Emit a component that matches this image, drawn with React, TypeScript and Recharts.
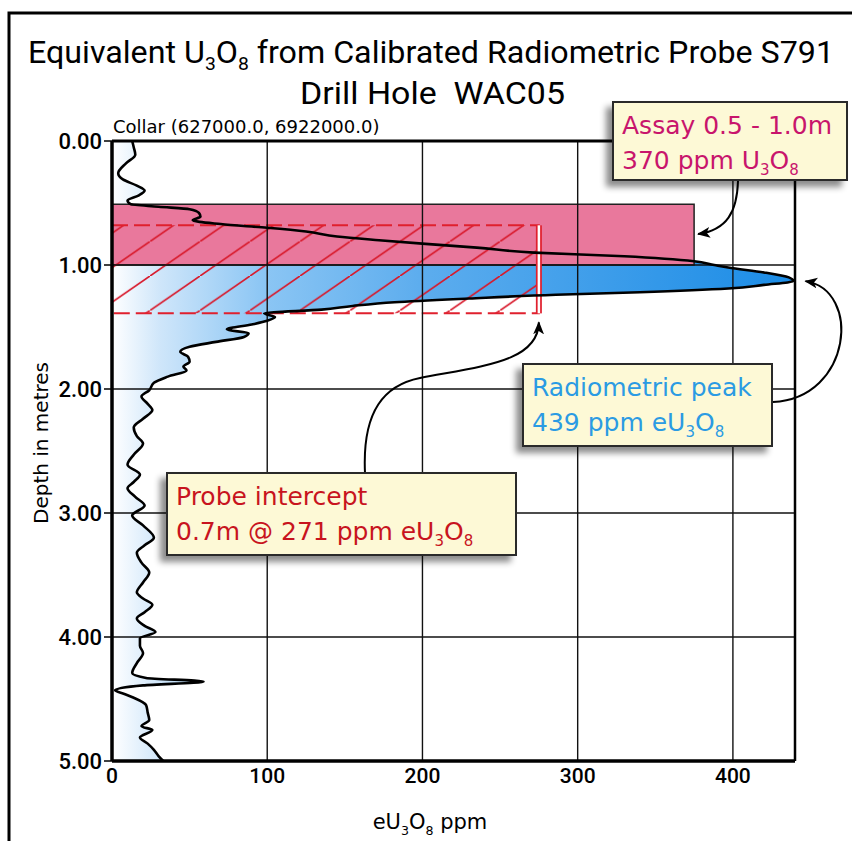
import { ComposedChart, Area, Line, XAxis, YAxis, ReferenceArea, ReferenceLine } from 'recharts'

// probe log: depth (m) and eU3O8 (ppm)
const depths = [
  0.0, 0.05, 0.11, 0.18, 0.26, 0.31, 0.36, 0.4, 0.44, 0.48, 0.51, 0.53, 0.55, 0.58, 0.61, 0.64, 0.67, 0.7, 0.73, 0.77,
  0.8, 0.83, 0.86, 0.9, 0.93, 0.97, 1.0, 1.02, 1.06, 1.1, 1.13, 1.16, 1.19, 1.22, 1.24, 1.27, 1.3, 1.33, 1.36, 1.39,
  1.42, 1.45, 1.48, 1.52, 1.55, 1.58, 1.62, 1.66, 1.7, 1.74, 1.78, 1.82, 1.85, 1.9, 1.95, 2.01, 2.06, 2.12, 2.17, 2.24,
  2.31, 2.38, 2.44, 2.53, 2.61, 2.69, 2.75, 2.8, 2.87, 2.94, 3.02, 3.1, 3.2, 3.26, 3.32, 3.4, 3.48, 3.56, 3.64, 3.69,
  3.74, 3.8, 3.85, 3.91, 3.96, 4.01, 4.07, 4.13, 4.21, 4.29, 4.33, 4.36, 4.39, 4.43, 4.46, 4.49, 4.55, 4.61, 4.67, 4.72,
  4.75, 4.81, 4.86, 4.91, 4.96, 5.0,
]
const ppm = [
  13, 14, 15, 9, 4, 7, 16, 21, 17, 10, 12, 30, 50, 56, 57, 52, 70, 100, 125, 145,
  172, 202, 235, 272, 330, 375, 388, 397, 420, 436, 439, 420, 397, 340, 286, 230, 182, 155, 135, 98,
  105, 100, 90, 74, 88, 85, 67, 50, 44, 49, 50, 46, 48, 36, 27, 24, 19, 23, 26, 20,
  14, 16, 20, 14, 10, 18, 14, 10, 15, 21, 13, 20, 27, 21, 16, 19, 24, 20, 16, 20,
  26, 21, 16, 21, 28, 18, 18, 20, 16, 13, 22, 59, 20, 2, 8, 14, 22, 23, 24, 19,
  26, 18, 23, 27, 30, 33,
]

const xTicks = [0, 100, 200, 300, 400]
const yTicks = [0, 1, 2, 3, 4, 5]
const xMax = 440

// assay interval and probe intercept
const assayFrom = 0.51
const assayTo = 1.0
const assayPpm = 375
const interceptFrom = 0.68
const interceptTo = 1.39
const interceptPpm = 275
const peakDepth = 1.13
const peakPpm = 439

const profile = depths.map((d, i) => ({ depth: d, ppm: ppm[i] }))

const W = 852
const H = 841
const PLOT = { left: 112, top: 141, right: 795, bottom: 761 }
const Y_AXIS_W = 60
const X_AXIS_H = 40

const xPx = (v: number) => PLOT.left + (v / xMax) * (PLOT.right - PLOT.left)
const yPx = (d: number) => PLOT.top + (d / 5) * (PLOT.bottom - PLOT.top)

const NARROW = "Roboto, 'Liberation Sans', sans-serif"
const ROUND = "'DejaVu Sans', 'Open Sans', sans-serif"

// U3O8 with subscripts; post text gets the baseline back
function Formula({ pre = '', post = '', shift = 6 }: { pre?: string; post?: string; shift?: number }) {
  return (
    <>
      {pre}U
      <tspan dy={shift} fontSize="60%">3</tspan>
      <tspan dy={-shift}>O</tspan>
      <tspan dy={shift} fontSize="60%">8</tspan>
      {post ? <tspan dy={-shift}>{post}</tspan> : null}
    </>
  )
}

function Callout({ x, y, w, h, color, lines }: { x: number; y: number; w: number; h: number; color: string; lines: React.ReactNode[] }) {
  return (
    <g>
      <rect x={x} y={y} width={w} height={h} fill="#fdf9d6" stroke="#2a2a2a" strokeWidth={2} filter="url(#boxShadow)" />
      {lines.map((l, i) => (
        <text key={i} x={x + 9} y={y + 32 + i * 35} fill={color} fontFamily={ROUND} fontSize={25}>
          {l}
        </text>
      ))}
    </g>
  )
}

function Overlay() {
  return (
    <svg width={W} height={H} style={{ position: 'absolute', left: 0, top: 0, pointerEvents: 'none' }}>
      <defs>
        <filter id="boxShadow" x="-20%" y="-20%" width="140%" height="150%">
          <feDropShadow dx={-6} dy={6} stdDeviation={3} floodColor="#000" floodOpacity={0.45} />
        </filter>
        <marker id="arrowHead" viewBox="0 0 12 10" refX={11} refY={5} markerWidth={13} markerHeight={11} markerUnits="userSpaceOnUse" orient="auto">
          <path d="M0,0 L12,5 L0,10 L3,5 Z" fill="#000" />
        </marker>
      </defs>

      {/* frame */}
      <path d={`M9,${H} L9,13 L${W},13`} fill="none" stroke="#000" strokeWidth={3} />

      <text x={28} y={63} fontFamily={NARROW} fontSize={31} textLength={806} lengthAdjust="spacingAndGlyphs">
        Equivalent <Formula shift={7} post=" from Calibrated Radiometric Probe S791" />
      </text>
      <text x={300} y={104} fontFamily={NARROW} fontSize={31} textLength={265} lengthAdjust="spacingAndGlyphs">
        Drill Hole{'\u00a0 '}WAC05
      </text>
      <text x={113} y={133} fontFamily={ROUND} fontSize={18}>
        Collar (627000.0, 6922000.0)
      </text>

      <text transform="translate(48,443) rotate(-90)" textAnchor="middle" fontFamily={ROUND} fontSize={20}>
        Depth in metres
      </text>
      <text x={430} y={829} textAnchor="middle" fontFamily={ROUND} fontSize={21}>
        <Formula pre="e" shift={6} post=" ppm" />
      </text>

      {/* arrows */}
      <path d={`M738,181 C737,212 727,230 ${xPx(assayPpm) + 4},${yPx(0.75)}`} fill="none" stroke="#000" strokeWidth={2} markerEnd="url(#arrowHead)" />
      <path d={`M773,402 C852,398 862,290 ${xPx(peakPpm) + 12},${yPx(peakDepth)}`} fill="none" stroke="#000" strokeWidth={2} markerEnd="url(#arrowHead)" />
      <path d={`M365,473 C362,410 385,385 420,378 C482,366 538,362 ${xPx(interceptPpm)},${yPx(interceptTo) + 9}`} fill="none" stroke="#000" strokeWidth={2} markerEnd="url(#arrowHead)" />

      <Callout x={613} y={102} w={234} h={78} color="#c8156c" lines={['Assay 0.5 - 1.0m', <Formula key="a" pre="370 ppm " />]} />
      <Callout x={523} y={364} w={249} h={82} color="#2b9be3" lines={['Radiometric peak', <Formula key="b" pre="439 ppm e" />]} />
      <Callout x={167} y={473} w={349} h={82} color="#c8141e" lines={['Probe intercept', <Formula key="c" pre="0.7m @ 271 ppm e" />]} />
    </svg>
  )
}

export default function App() {
  return (
    <div style={{ position: 'absolute', left: 0, top: 0, width: W, height: H, background: '#fff' }}>
      <ComposedChart
        width={W}
        height={H}
        data={profile}
        layout="vertical"
        margin={{ top: PLOT.top, right: W - PLOT.right, bottom: H - PLOT.bottom - X_AXIS_H, left: PLOT.left - Y_AXIS_W }}
      >
        <defs>
          <linearGradient id="probeFill" gradientUnits="userSpaceOnUse" x1={PLOT.left} y1={0} x2={PLOT.right} y2={0}>
            <stop offset="0" stopColor="#ffffff" />
            <stop offset="0.07" stopColor="#cfe6fa" />
            <stop offset="0.22" stopColor="#8cc6f4" />
            <stop offset="0.45" stopColor="#5dadee" />
            <stop offset="1" stopColor="#1b8ce6" />
          </linearGradient>
          <pattern id="hatch" patternUnits="userSpaceOnUse" width={50} height={34.5}>
            <line x1={-5} y1={37.95} x2={55} y2={-3.45} stroke="#d8182a" strokeWidth={1.7} />
          </pattern>
        </defs>
        <XAxis
          type="number"
          domain={[0, xMax]}
          ticks={xTicks}
          height={X_AXIS_H}
          tickSize={0}
          tickMargin={7}
          axisLine={{ stroke: '#000', strokeWidth: 3.5 }}
          tick={{ fill: '#000', fontSize: 21, fontWeight: 500, fontFamily: NARROW }}
        />
        <YAxis
          type="number"
          dataKey="depth"
          domain={[0, 5]}
          ticks={yTicks}
          width={Y_AXIS_W}
          tickSize={8}
          tickMargin={2}
          tickFormatter={(v: number) => v.toFixed(2)}
          axisLine={{ stroke: '#000', strokeWidth: 3.5 }}
          tickLine={{ stroke: '#000', strokeWidth: 1.5 }}
          tick={{ fill: '#000', fontSize: 22, fontWeight: 500, fontFamily: NARROW }}
        />
        <Area dataKey="ppm" type="monotone" fill="url(#probeFill)" fillOpacity={1} stroke="none" isAnimationActive={false} />
        <ReferenceArea x1={0} x2={assayPpm} y1={assayFrom} y2={assayTo} fill="#e9789c" fillOpacity={1} stroke="#222" strokeWidth={1.5} />
        <ReferenceArea
          x1={0}
          x2={interceptPpm}
          y1={interceptFrom}
          y2={interceptTo}
          fill="url(#hatch)"
          fillOpacity={1}
          stroke="#e0202e"
          strokeWidth={2}
          strokeDasharray="16 6"
        />
        {xTicks.slice(1).map((t) => (
          <ReferenceLine key={`gx${t}`} x={t} stroke="#111" strokeWidth={1.4} />
        ))}
        {yTicks.slice(1, -1).map((t) => (
          <ReferenceLine key={`gy${t}`} y={t} stroke="#111" strokeWidth={1.6} />
        ))}
        <ReferenceLine y={0} stroke="#000" strokeWidth={3} />
        <ReferenceLine x={xMax} stroke="#000" strokeWidth={2.5} />
        <ReferenceLine segment={[{ x: interceptPpm, y: interceptFrom }, { x: interceptPpm, y: interceptTo }]} stroke="#e0202e" strokeWidth={6} />
        <ReferenceLine segment={[{ x: interceptPpm, y: interceptFrom }, { x: interceptPpm, y: interceptTo }]} stroke="#fff" strokeWidth={2.5} />
        <Line dataKey="ppm" type="monotone" stroke="#000" strokeWidth={2.6} dot={false} isAnimationActive={false} />
      </ComposedChart>
      <Overlay />
    </div>
  )
}
